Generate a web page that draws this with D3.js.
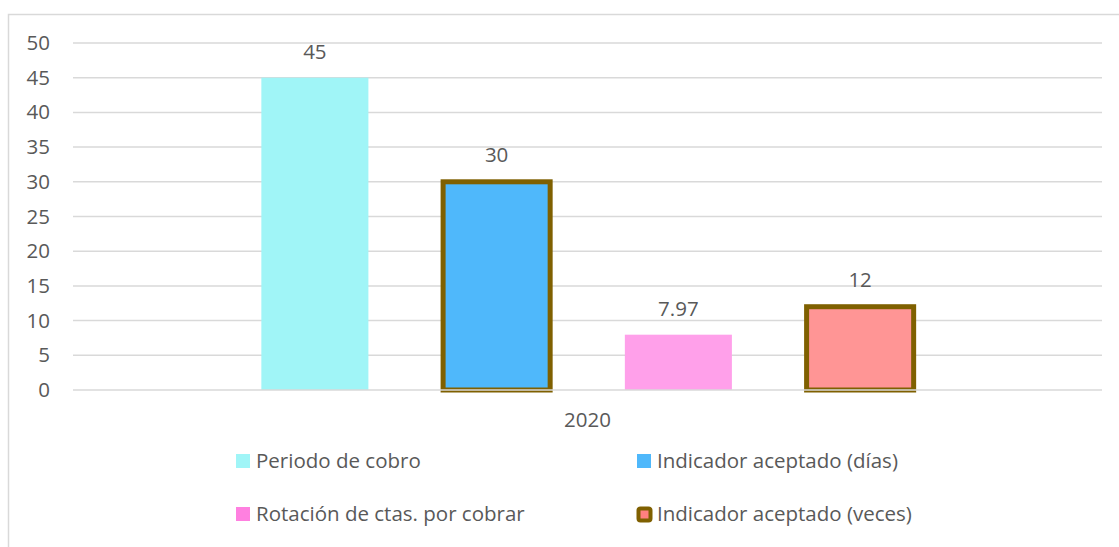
<!DOCTYPE html>
<html>
<head>
<meta charset="utf-8">
<script src="https://cdn.jsdelivr.net/npm/d3@7"></script>
<style>
  body { margin: 0; background: #fff; }
  text { font-family: "Open Sans", "Noto Sans", sans-serif; fill: #595959; }
</style>
</head>
<body>
<script>
// data
var category = "2020";
var seriesNames = ["Periodo de cobro", "Indicador aceptado (días)", "Rotación de ctas. por cobrar", "Indicador aceptado (veces)"];
var seriesValues = [45, 30, 7.97, 12];
var valueLabels = ["45", "30", "7.97", "12"];
var yTicks = [0, 5, 10, 15, 20, 25, 30, 35, 40, 45, 50];

var fills = ["#a0f5f7", "#4fb8fb", "#ffa0ea", "#ff9595"];
var legendFills = ["#a0f5f7", "#4fb8fb", "#ff80e0", "#ff8080"];
var outlined = [false, true, false, true];
var edge = "#7f6000";

var W = 1119, H = 547;
var plotLeft = 73, plotRight = 1102, plotTop = 43, plotBottom = 390;
var fontSize = 20.5;

var svg = d3.select("body").append("svg")
    .attr("width", W)
    .attr("height", H);

// chart frame
svg.append("rect")
    .attr("x", 8.5).attr("y", 14.5)
    .attr("width", W).attr("height", H)
    .attr("fill", "none")
    .attr("stroke", "#d9d9d9")
    .attr("stroke-width", 1.5);

var y = d3.scaleLinear().domain([0, 50]).range([plotBottom, plotTop]);
var x0 = d3.scaleBand().domain([category]).range([plotLeft, plotRight]).paddingInner(0).paddingOuter(0.2077);
var x1 = d3.scaleBand().domain(seriesNames).range([0, x0.bandwidth()]).paddingInner(0.411).paddingOuter(0.2055);

// gridlines
svg.append("g").selectAll("line")
    .data(yTicks.filter(function (d) { return d > 0; }))
    .enter().append("line")
    .attr("x1", plotLeft).attr("x2", plotRight)
    .attr("y1", function (d) { return y(d); })
    .attr("y2", function (d) { return y(d); })
    .attr("stroke", "#d9d9d9")
    .attr("stroke-width", 1.5);

// y axis labels
var yAxis = d3.axisLeft(y).tickValues(yTicks).tickSize(0).tickPadding(23);
var gy = svg.append("g").attr("transform", "translate(" + plotLeft + ",0)").call(yAxis);
gy.select(".domain").remove();
gy.selectAll("text").attr("font-size", fontSize).attr("fill", "#595959")
    .style("font-family", "'Open Sans', 'Noto Sans', sans-serif");

// bars
var bars = svg.append("g").attr("transform", "translate(" + x0(category) + ",0)");
bars.selectAll("rect")
    .data(seriesValues)
    .enter().append("rect")
    .attr("x", function (d, i) { return x1(seriesNames[i]); })
    .attr("y", function (d) { return y(d); })
    .attr("width", x1.bandwidth())
    .attr("height", function (d) { return y(0) - y(d); })
    .attr("fill", function (d, i) { return fills[i]; })
    .attr("stroke", function (d, i) { return outlined[i] ? edge : "none"; })
    .attr("stroke-width", 5);

bars.selectAll("text")
    .data(seriesValues)
    .enter().append("text")
    .attr("x", function (d, i) { return x1(seriesNames[i]) + x1.bandwidth() / 2; })
    .attr("y", function (d, i) { return y(d) - (outlined[i] ? 20 : 19); })
    .attr("text-anchor", "middle")
    .attr("font-size", fontSize)
    .text(function (d, i) { return valueLabels[i]; });

// baseline
svg.append("line")
    .attr("x1", plotLeft).attr("x2", plotRight)
    .attr("y1", y(0)).attr("y2", y(0))
    .attr("stroke", "#d9d9d9")
    .attr("stroke-width", 1.5);

svg.append("text")
    .attr("x", (plotLeft + plotRight) / 2)
    .attr("y", 427)
    .attr("text-anchor", "middle")
    .attr("font-size", fontSize)
    .text(category);

// legend
var legendPos = [[236, 461], [637, 461], [236, 514], [637, 514]];
var boxed = [false, false, false, true];
var lg = svg.append("g").selectAll("g")
    .data(seriesNames)
    .enter().append("g")
    .attr("transform", function (d, i) { return "translate(" + legendPos[i][0] + "," + legendPos[i][1] + ")"; });

lg.append("rect")
    .attr("x", function (d, i) { return boxed[i] ? 1.5 : 0; })
    .attr("y", function (d, i) { return boxed[i] ? -5.5 : -7; })
    .attr("width", function (d, i) { return boxed[i] ? 12 : 14; })
    .attr("height", function (d, i) { return boxed[i] ? 12 : 14; })
    .attr("rx", function (d, i) { return boxed[i] ? 2 : 0; })
    .attr("fill", function (d, i) { return legendFills[i]; })
    .attr("stroke", function (d, i) { return boxed[i] ? edge : "none"; })
    .attr("stroke-width", 4);

lg.append("text")
    .attr("x", 20)
    .attr("y", 7)
    .attr("font-size", fontSize)
    .text(function (d) { return d; });
</script>
</body>
</html>
